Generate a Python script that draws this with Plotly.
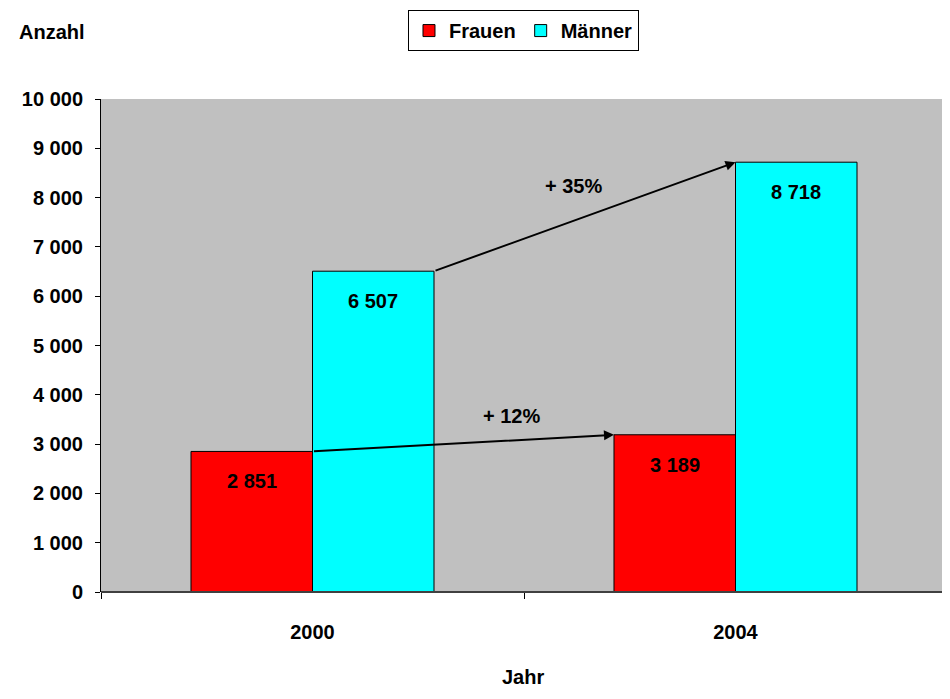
import plotly.graph_objects as go

years = ["2000", "2004"]
frauen = [2851, 3189]
maenner = [6507, 8718]
yticks = [0, 1000, 2000, 3000, 4000, 5000, 6000, 7000, 8000, 9000, 10000]
pct_labels = ["+ 12%", "+ 35%"]

FONT = "Liberation Sans, Arial, sans-serif"
BOLD = dict(family=FONT, size=20, color="black", weight="bold")

bargap = 0.4255
bw = (1 - bargap) / 2  # width of a single bar in category units

fig = go.Figure()
fig.add_trace(go.Bar(name="Frauen", x=years, y=frauen, marker=dict(color="#FF0000", line=dict(color="black", width=1))))
fig.add_trace(go.Bar(name="Männer", x=years, y=maenner, marker=dict(color="#00FFFF", line=dict(color="black", width=1))))

fmt = lambda v: f"{v:,}".replace(",", " ")
ann = []
for i in range(len(years)):
    ann.append(dict(x=i - bw / 2, y=frauen[i], xref="x", yref="y", text=fmt(frauen[i]), showarrow=False,
                    yshift=-30, font=BOLD))
    ann.append(dict(x=i + bw / 2, y=maenner[i], xref="x", yref="y", text=fmt(maenner[i]), showarrow=False,
                    yshift=-30, font=BOLD))

# growth arrows
ann.append(dict(x=1 - bw, y=frauen[1], ax=0, ay=frauen[0], xref="x", yref="y", axref="x", ayref="y",
                showarrow=True, arrowhead=2, arrowsize=1, arrowwidth=2, arrowcolor="black", standoff=0,
                startstandoff=0, text=""))
ann.append(dict(x=1, y=maenner[1], ax=bw, ay=maenner[0], xref="x", yref="y", axref="x", ayref="y",
                showarrow=True, arrowhead=2, arrowsize=1, arrowwidth=2, arrowcolor="black", standoff=0,
                startstandoff=0, text=""))
ann.append(dict(x=0.4716, y=3563, xref="x", yref="y", text=pct_labels[0], showarrow=False, font=BOLD))
ann.append(dict(x=0.618, y=8239, xref="x", yref="y", text=pct_labels[1], showarrow=False, font=BOLD))

# axis titles
ann.append(dict(x=-0.0993, y=1.1356, xref="paper", yref="paper", text="Anzahl", showarrow=False,
                xanchor="left", yanchor="middle", font=BOLD))
ann.append(dict(x=0.4994, y=-0.1721, xref="paper", yref="paper", text="Jahr", showarrow=False,
                xanchor="center", yanchor="middle", font=BOLD))

fig.update_layout(
    width=942, height=691,
    margin=dict(l=93, r=3, t=90, b=107),
    paper_bgcolor="white", plot_bgcolor="#C0C0C0",
    barmode="group", bargap=bargap, bargroupgap=0,
    separators=", ",
    showlegend=True,
    legend=dict(orientation="h", x=0.4994, xanchor="center", y=1.178, yanchor="top",
                bordercolor="black", borderwidth=1, bgcolor="white",
                font=dict(family=FONT, size=20, color="black", weight="bold"),
                itemwidth=30, tracegroupgap=0),
    annotations=ann,
    xaxis=dict(type="category", range=[-0.5, 1.5], showline=False, ticks="outside", tickson="boundaries",
               ticklen=6, tickcolor="black", tickfont=BOLD, ticklabelstandoff=26, showgrid=False,
               zeroline=False, fixedrange=True),
    yaxis=dict(range=[0, 10000], tickvals=yticks, tickformat=",d", showline=True, linecolor="black",
               linewidth=1, ticks="outside", ticklen=5, tickcolor="black", tickfont=BOLD,
               ticklabelstandoff=8, showgrid=False, zeroline=False, fixedrange=True, automargin=False),
    shapes=[
        dict(type="line", xref="paper", yref="paper", x0=0, x1=1, y0=0, y1=0,
             line=dict(color="#404040", width=2)),
        dict(type="line", xref="paper", yref="paper", x0=1, x1=1, y0=0, y1=1,
             line=dict(color="#808080", width=2)),
    ],
)

fig.write_html("out.html")
